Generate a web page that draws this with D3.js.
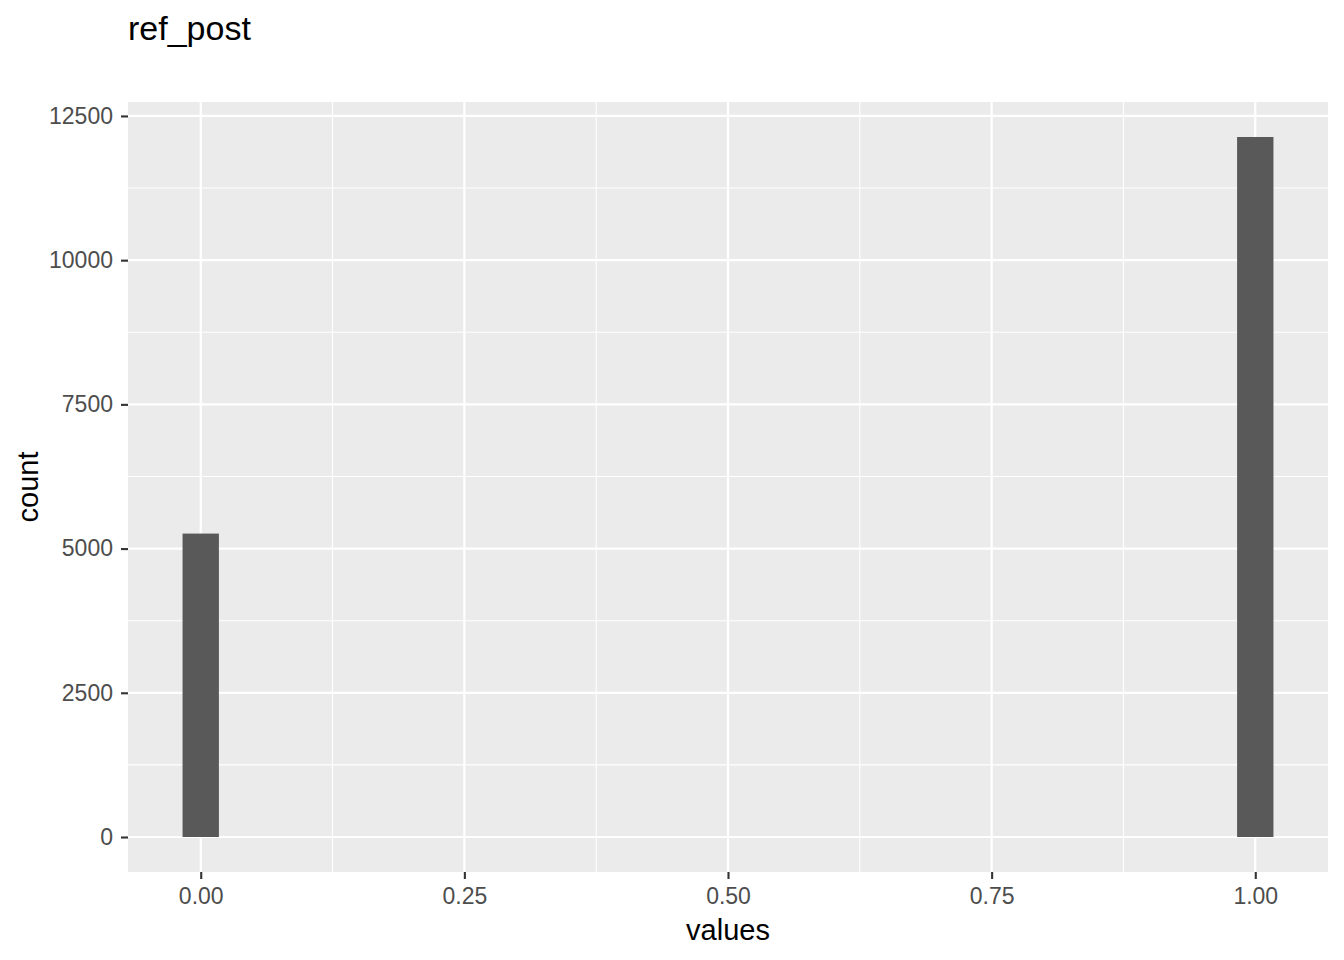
<!DOCTYPE html>
<html>
<head>
<meta charset="utf-8">
<script src="https://d3js.org/d3.v7.min.js"></script>
<style>
  body { margin: 0; background: #fff; }
  text { font-family: "Liberation Sans", Arial, sans-serif; }
</style>
</head>
<body>
<script>
// histogram of ref_post (30 bins, only the two end bins are filled)
var title = "ref_post";
var binCenters = [0, 1];
var binCounts = [5260, 12135];
var nBins = 30;
var xTicks = [0, 0.25, 0.5, 0.75, 1];
var xMinor = [0.125, 0.375, 0.625, 0.875];
var yTicks = [0, 2500, 5000, 7500, 10000, 12500];
var yMinor = [1250, 3750, 6250, 8750, 11250];

var width = 1344, height = 960;
var margin = {top: 102, right: 16, bottom: 88, left: 128};

var binWidth = (d3.max(binCenters) - d3.min(binCenters)) / (nBins - 1);
var xLo = d3.min(binCenters) - binWidth / 2, xHi = d3.max(binCenters) + binWidth / 2;
var xPad = (xHi - xLo) * 0.05;
var yMax = d3.max(binCounts);

var x = d3.scaleLinear()
    .domain([xLo - xPad, xHi + xPad])
    .range([margin.left, width - margin.right]);
var y = d3.scaleLinear()
    .domain([-yMax * 0.05, yMax * 1.05])
    .range([height - margin.bottom, margin.top]);

var svg = d3.select("body").append("svg")
    .attr("width", width)
    .attr("height", height);

svg.append("rect")
    .attr("x", margin.left).attr("y", margin.top)
    .attr("width", width - margin.left - margin.right)
    .attr("height", height - margin.top - margin.bottom)
    .attr("fill", "#EBEBEB");

var grid = svg.append("g");
grid.selectAll(".xmin").data(xMinor).enter().append("line")
    .attr("x1", d => x(d)).attr("x2", d => x(d))
    .attr("y1", margin.top).attr("y2", height - margin.bottom)
    .attr("stroke", "#fff").attr("stroke-width", 1.1);
grid.selectAll(".ymin").data(yMinor).enter().append("line")
    .attr("y1", d => y(d)).attr("y2", d => y(d))
    .attr("x1", margin.left).attr("x2", width - margin.right)
    .attr("stroke", "#fff").attr("stroke-width", 1.1);
grid.selectAll(".xmaj").data(xTicks).enter().append("line")
    .attr("x1", d => x(d)).attr("x2", d => x(d))
    .attr("y1", margin.top).attr("y2", height - margin.bottom)
    .attr("stroke", "#fff").attr("stroke-width", 2.2);
grid.selectAll(".ymaj").data(yTicks).enter().append("line")
    .attr("y1", d => y(d)).attr("y2", d => y(d))
    .attr("x1", margin.left).attr("x2", width - margin.right)
    .attr("stroke", "#fff").attr("stroke-width", 2.2);

svg.append("g").selectAll("rect")
    .data(binCenters.map((c, i) => ({c: c, n: binCounts[i]})))
    .enter().append("rect")
    .attr("x", d => x(d.c - binWidth / 2))
    .attr("width", d => x(d.c + binWidth / 2) - x(d.c - binWidth / 2))
    .attr("y", d => y(d.n))
    .attr("height", d => y(0) - y(d.n))
    .attr("fill", "#595959");

// axes
var xAxis = svg.append("g")
    .attr("transform", "translate(0," + (height - margin.bottom) + ")")
    .call(d3.axisBottom(x).tickValues(xTicks).tickFormat(d3.format(".2f")).tickSize(7).tickPadding(8));
var yAxis = svg.append("g")
    .attr("transform", "translate(" + margin.left + ",0)")
    .call(d3.axisLeft(y).tickValues(yTicks).tickFormat(d3.format("d")).tickSize(7).tickPadding(8));
[xAxis, yAxis].forEach(function (a) {
    a.select(".domain").remove();
    a.selectAll(".tick line").attr("stroke", "#333333").attr("stroke-width", 2.1);
    a.selectAll(".tick text")
        .attr("fill", "#4D4D4D")
        .style("font-size", "23px")
        .style("font-family", "'Liberation Sans', Arial, sans-serif");
});
xAxis.selectAll(".tick text").attr("dy", "0.75em");

svg.append("text")
    .attr("x", margin.left).attr("y", 40)
    .style("font-size", "34px")
    .attr("fill", "#000")
    .text(title);

svg.append("text")
    .attr("x", (margin.left + width - margin.right) / 2)
    .attr("y", 940)
    .attr("text-anchor", "middle")
    .style("font-size", "29px")
    .text("values");

svg.append("text")
    .attr("transform", "translate(38," + ((margin.top + height - margin.bottom) / 2) + ") rotate(-90)")
    .attr("text-anchor", "middle")
    .style("font-size", "29px")
    .text("count");
</script>
</body>
</html>
